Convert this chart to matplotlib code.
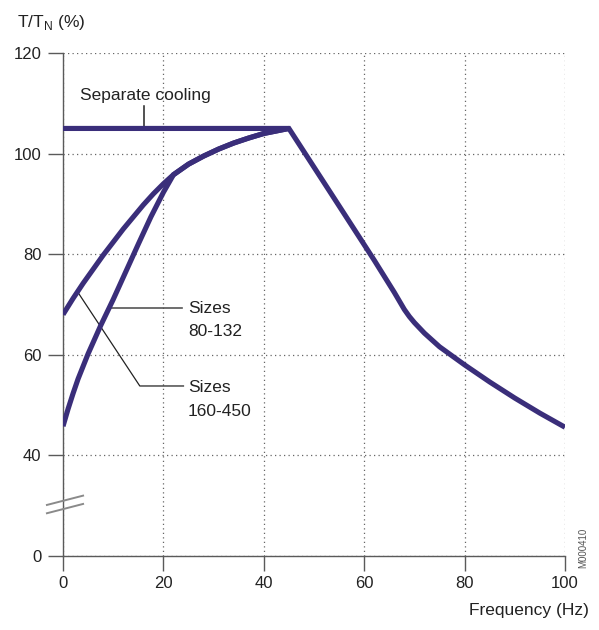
import numpy as np
import matplotlib
matplotlib.use('Agg')
import matplotlib.pyplot as plt

plt.rcParams['font.family'] = ['Liberation Sans', 'DejaVu Sans']
plt.rcParams['mathtext.fontset'] = 'custom'
plt.rcParams['mathtext.rm'] = 'Liberation Sans'

# separate cooling (flat, then field weakening)
sep_freq = [0, 45, 55, 62, 66, 67, 68, 69, 70, 72, 75, 80, 85, 90, 95, 100]
sep_torque = [105, 105, 89.6, 78.8, 72.4, 70.7, 69.0, 67.6, 66.4, 64.3, 61.6, 58.0, 54.6, 51.4, 48.4, 45.6]

# self cooled, sizes 80-132 (rising part)
small_freq = [0, 1, 2, 3, 5, 7.5, 10, 12.5, 15, 17.5, 20, 22]
small_torque = [45.8, 49.2, 52.3, 55.2, 60.2, 65.8, 71.0, 76.5, 82.0, 87.4, 92.3, 95.8]

# self cooled, sizes 160-450 (rising part)
large_freq = [0, 2, 4, 6, 8, 10, 12, 14, 16, 18, 20, 22]
large_torque = [68.0, 71.2, 74.2, 77.0, 79.8, 82.4, 85.0, 87.4, 89.8, 92.0, 94.0, 95.8]

# shared part of both self cooled curves
tail_freq = [22, 25, 28, 31, 34, 37, 40, 43, 45]
tail_torque = [95.8, 97.9, 99.5, 100.9, 102.1, 103.1, 104.0, 104.6, 105]

x_ticks = [0, 20, 40, 60, 80, 100]
y_ticks = [0, 40, 60, 80, 100, 120]

LINE = '#3a2e7a'
TXT = '#222222'
AX = '#5a5a5a'


# broken y axis: 0..40 squeezed to half scale
def fwd(y):
    y = np.asarray(y, dtype=float)
    return np.where(y < 40, y * 0.5, y - 20)


def inv(z):
    z = np.asarray(z, dtype=float)
    return np.where(z < 20, z * 2.0, z + 20)


fig = plt.figure(figsize=(5.99, 6.30), dpi=100)
ax = fig.add_axes([63 / 599, 1 - 556 / 630, 502 / 599, 503 / 630])
ax.set_yscale('function', functions=(fwd, inv))
ax.set_xlim(0, 100)
ax.set_ylim(0, 120)

ax.set_xticks(x_ticks)
ax.set_yticks(y_ticks)
ax.tick_params(axis='both', direction='out', length=10.5, width=1,
               color=AX, labelsize=12, labelcolor=TXT)
ax.tick_params(axis='y', pad=5)
ax.tick_params(axis='x', pad=4)
ax.minorticks_off()

for side in ['top', 'right']:
    ax.spines[side].set_visible(False)
for side in ['left', 'bottom']:
    ax.spines[side].set_color(AX)
    ax.spines[side].set_linewidth(1)

ax.grid(True, linestyle=(0, (1, 2.6)), color='#666666', linewidth=0.9)
ax.set_axisbelow(True)

kw = dict(color=LINE, linewidth=3.7, solid_capstyle='butt', solid_joinstyle='miter', zorder=3)
ax.plot(sep_freq, sep_torque, **kw)
ax.plot(small_freq + tail_freq[1:], small_torque + tail_torque[1:], **kw)
ax.plot(large_freq + tail_freq[1:], large_torque + tail_torque[1:], **kw)

# annotations
ax.text(3.4, 111.6, 'Separate cooling', fontsize=12.5, color=TXT, va='center', ha='left')
ax.plot([16.1, 16.1], [109.5, 105.3], color='#222222', linewidth=1.1, zorder=2)

ax.plot([9.6, 23.8], [69.4, 69.4], color='#555555', linewidth=1.2, zorder=2)
ax.text(24.9, 69.2, 'Sizes', fontsize=12.5, color=TXT, va='center', ha='left')
ax.text(24.9, 64.6, '80-132', fontsize=12.5, color=TXT, va='center', ha='left')

ax.plot([3.05, 15.3, 24.0], [72.3, 53.8, 53.8], color='#222222', linewidth=0.9, zorder=2)
ax.text(24.9, 53.4, 'Sizes', fontsize=12.5, color=TXT, va='center', ha='left')
ax.text(24.9, 48.8, '160-450', fontsize=12.5, color=TXT, va='center', ha='left')

# axis break marks
ax.plot([-3.2, 4.0], [20.3, 24.0], color='#8a8a8a', linewidth=1.4, clip_on=False, zorder=4)
ax.plot([-3.2, 4.0], [17.0, 20.7], color='#8a8a8a', linewidth=1.4, clip_on=False, zorder=4)

fig.text(17 / 599, 1 - 22 / 630, r'T/T$_{\mathregular{N}}$ (%)', fontsize=12.5,
         color=TXT, ha='left', va='center')
fig.text(589 / 599, 1 - 611 / 630, 'Frequency (Hz)', fontsize=12.5,
         color=TXT, ha='right', va='center')
fig.text(583 / 599, 1 - 548 / 630, 'M000410', fontsize=7, color='#555555',
         rotation=90, ha='center', va='center')

fig.savefig('out.png', dpi=100)
